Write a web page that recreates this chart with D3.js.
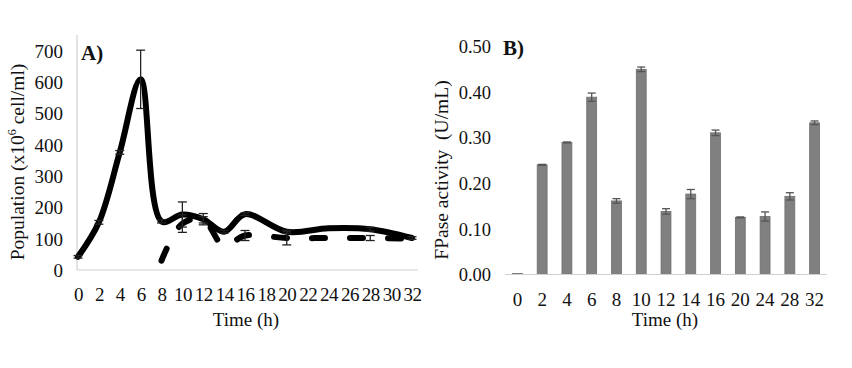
<!DOCTYPE html>
<html><head><meta charset="utf-8">
<script src="https://cdn.jsdelivr.net/npm/d3@7/dist/d3.min.js"></script>
<style>body{margin:0;background:#fff}text{font-family:"Liberation Serif","Times New Roman",serif;fill:#111}</style>
</head><body>
<svg id="c" width="852" height="368"></svg>
<script>
// ---------- Data ----------
const timeCats = ["0","2","4","6","8","10","12","14","16","18","20","22","24","26","28","30","32"];
const popTimes = ["0","2","4","6","8","10","12","14","16","20","24","28","32"];
const popSolid = [42,152,375,608,155,177,162,122,178,122,133,130,102];
const popSolidErr = [4,6,6,93,5,40,18,4,4,5,0,6,4];
const dashTimes = ["8","10","12","14","16","20","24","28","32"];
const popDashed = [30,148,160,76,110,102,102,102,100];
const popDashedErr = [0,28,10,0,16,22,0,8,0];
const yTicksA = [0,100,200,300,400,500,600,700];

const fpTimes = ["0","2","4","6","8","10","12","14","16","20","24","28","32"];
const fpase = [0.002,0.240,0.289,0.388,0.161,0.449,0.138,0.176,0.310,0.125,0.127,0.171,0.332];
const fpaseErr = [0,0.001,0.001,0.009,0.005,0.005,0.006,0.010,0.006,0.001,0.010,0.008,0.004];
const yTicksB = [0,0.1,0.2,0.3,0.4,0.5];

const svg = d3.select("#c");

// ---------- Panel A ----------
const xA = d3.scalePoint().domain(timeCats).range([78, 412]);
const yA = d3.scaleLinear().domain([0, 700]).range([270, 50.5]);
const gA = svg.append("g");

gA.append("line").attr("x1",77).attr("x2",77).attr("y1",35).attr("y2",270).attr("stroke","#d0d0d0").attr("stroke-width",1.2);
gA.append("line").attr("x1",77).attr("x2",418).attr("y1",270).attr("y2",270).attr("stroke","#d0d0d0").attr("stroke-width",1.2);

const axAy = gA.append("g").attr("transform","translate(63,0)")
  .call(d3.axisLeft(yA).tickValues(yTicksA).tickSize(0).tickPadding(0).tickFormat(d3.format("d")));
axAy.select(".domain").remove();
axAy.selectAll("text").style("font-size","19px").attr("dy","0.35em");

const axAx = gA.append("g").attr("transform","translate(0,287)")
  .call(d3.axisBottom(xA).tickSize(0).tickPadding(0));
axAx.select(".domain").remove();
axAx.selectAll("text").style("font-size","19px").attr("dy","0.75em").attr("letter-spacing","-0.5px");

gA.append("text").attr("x",246).attr("y",326).attr("text-anchor","middle").style("font-size","19px").text("Time (h)");
const tA = gA.append("text").attr("transform","translate(24,162) rotate(-90)").attr("text-anchor","middle").style("font-size","19.5px");
tA.append("tspan").text("Population (x10");
tA.append("tspan").attr("dy",-8).style("font-size","12px").text("6");
tA.append("tspan").attr("dy",8).text(" cell/ml)");
gA.append("text").attr("x",81).attr("y",60).style("font-size","21px").style("font-weight","bold").text("A)");

const solidPts = popTimes.map((t,i)=>({t, v:popSolid[i], e:popSolidErr[i]}));
const dashPts = dashTimes.map((t,i)=>({t, v:popDashed[i], e:popDashedErr[i]}));
const lineA = d3.line().x(d=>xA(d.t)).y(d=>yA(d.v)).curve(d3.curveCatmullRom.alpha(0.5));

gA.append("path").datum(dashPts).attr("d",lineA).attr("fill","none").attr("stroke","#000")
  .attr("stroke-width",6).attr("stroke-linecap","round").attr("stroke-dasharray","13,25");
gA.append("path").datum(solidPts).attr("d",lineA).attr("fill","none").attr("stroke","#000")
  .attr("stroke-width",6).attr("stroke-linejoin","round").attr("stroke-linecap","round");

function errBars(g, pts, x, y, cap, color, w){
  const eb = g.append("g").attr("stroke",color).attr("stroke-width",w);
  pts.filter(d=>d.e>0).forEach(d=>{
    const cx = x(d.t), y1 = y(d.v + d.e), y2 = y(d.v - d.e);
    eb.append("line").attr("x1",cx).attr("x2",cx).attr("y1",y1).attr("y2",y2);
    eb.append("line").attr("x1",cx-cap).attr("x2",cx+cap).attr("y1",y1).attr("y2",y1);
    eb.append("line").attr("x1",cx-cap).attr("x2",cx+cap).attr("y1",y2).attr("y2",y2);
  });
}
errBars(gA, solidPts, xA, yA, 4.5, "#222", 1.3);
errBars(gA, dashPts, xA, yA, 4.5, "#222", 1.3);

// ---------- Panel B ----------
const xB = d3.scaleBand().domain(fpTimes).range([505, 827]).paddingInner(0.6).paddingOuter(0.3);
const yB = d3.scaleLinear().domain([0, 0.5]).range([274.5, 46]);
const gB = svg.append("g");

const axBy = gB.append("g").attr("transform","translate(491,0)")
  .call(d3.axisLeft(yB).tickValues(yTicksB).tickSize(0).tickPadding(0).tickFormat(d3.format(".2f")));
axBy.select(".domain").remove();
axBy.selectAll("text").style("font-size","18.5px").attr("dy","0.35em");

const barPts = fpTimes.map((t,i)=>({t, v:fpase[i], e:fpaseErr[i]}));
gB.selectAll("rect.bar").data(barPts).join("rect").attr("class","bar")
  .attr("x",d=>xB(d.t)).attr("width",xB.bandwidth())
  .attr("y",d=>yB(d.v)).attr("height",d=>yB(0)-yB(d.v))
  .attr("fill","#808080").attr("stroke","#6e6e6e").attr("stroke-width",0.8);

gB.append("line").attr("x1",505).attr("x2",827).attr("y1",274.5).attr("y2",274.5).attr("stroke","#d0d0d0").attr("stroke-width",1.2);

const xBc = t => xB(t) + xB.bandwidth()/2;
errBars(gB, barPts, xBc, yB, 4, "#555", 1.3);

const axBx = gB.append("g").attr("transform","translate(0,292)")
  .call(d3.axisBottom(xB).tickSize(0).tickPadding(0));
axBx.select(".domain").remove();
axBx.selectAll("text").style("font-size","19px").attr("dy","0.75em");

gB.append("text").attr("x",665).attr("y",326).attr("text-anchor","middle").style("font-size","19px").text("Time (h)");
gB.append("text").attr("transform","translate(448,170) rotate(-90)").attr("text-anchor","middle").style("font-size","19.5px")
  .attr("xml:space","preserve").text("FPase activity  (U/mL)");
gB.append("text").attr("x",503).attr("y",55).style("font-size","21px").style("font-weight","bold").text("B)");
</script>
</body></html>
